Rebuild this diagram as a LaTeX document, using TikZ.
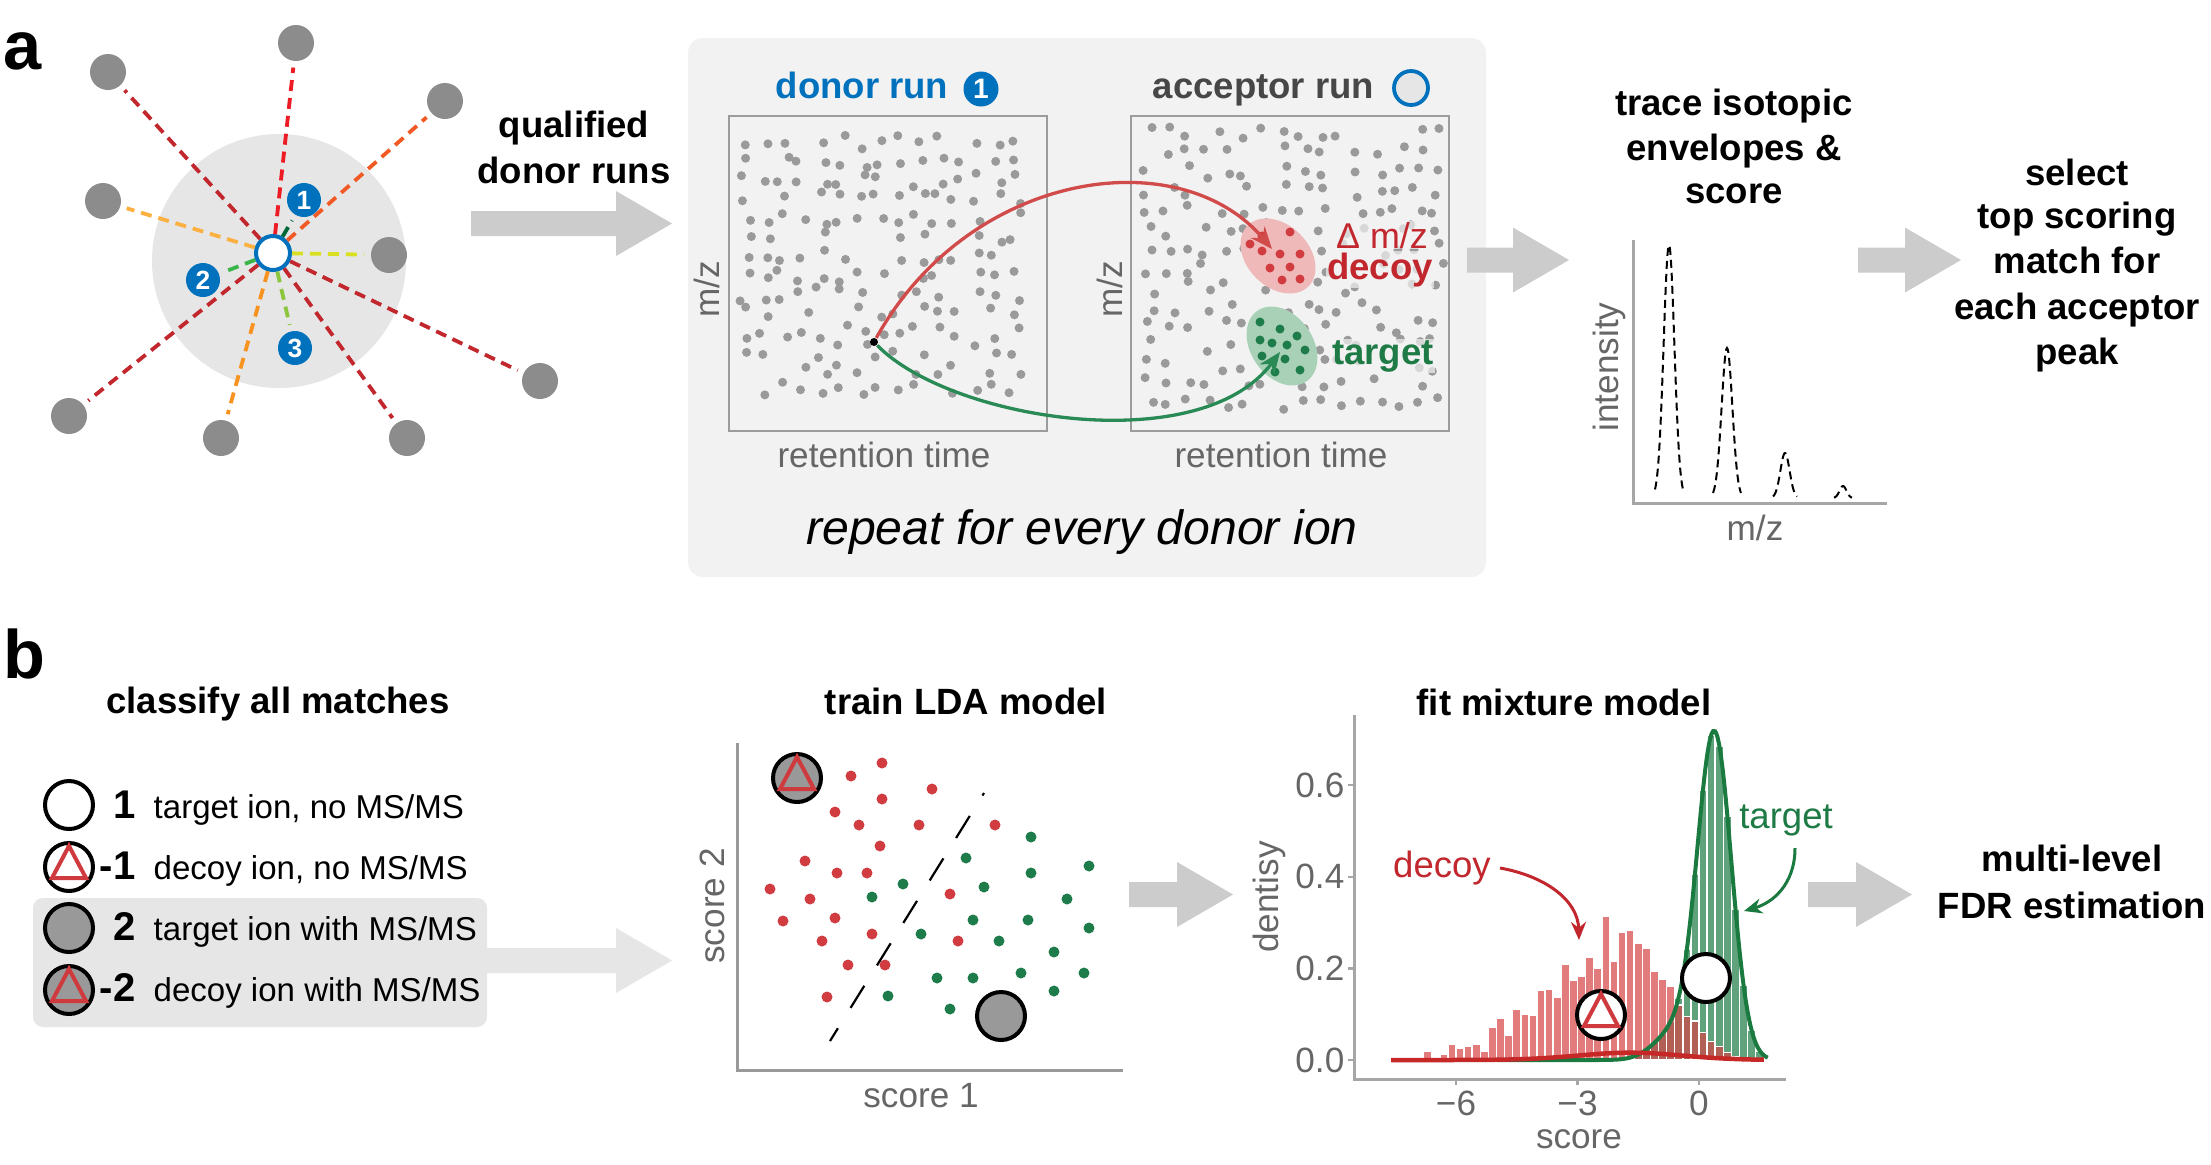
\documentclass[tikz,border=0pt]{standalone}
\usepackage{fontspec}
\setmainfont{Liberation Sans}
\usetikzlibrary{arrows.meta}
\definecolor{panelbg}{HTML}{F2F2F2}
\definecolor{diskgray}{HTML}{E6E6E6}
\definecolor{nodegray}{HTML}{8C8C8C}
\definecolor{dotgray}{HTML}{9A9A9A}
\definecolor{boxgray}{HTML}{9C9C9C}
\definecolor{arrgray}{HTML}{CCCCCC}
\definecolor{arrlight}{HTML}{E6E6E6}
\definecolor{blueA}{HTML}{0071BC}
\definecolor{axisgray}{HTML}{666666}
\definecolor{axline}{HTML}{A6A6A6}
\definecolor{cRed}{HTML}{ED1C24}
\definecolor{cDkRed}{HTML}{C1272D}
\definecolor{cOrRed}{HTML}{F15A24}
\definecolor{cLtOr}{HTML}{FBB040}
\definecolor{cOr}{HTML}{F7931E}
\definecolor{cYel}{HTML}{D9E021}
\definecolor{cDkGrn}{HTML}{006837}
\definecolor{cGrn}{HTML}{39B54A}
\definecolor{cYGrn}{HTML}{8CC63F}
\definecolor{arrRed}{HTML}{D24B4B}
\definecolor{arrGrn}{HTML}{2A8A55}
\definecolor{decoyRed}{HTML}{C1272D}
\definecolor{targetGrn}{HTML}{1E7B45}
\definecolor{ellRed}{HTML}{EFB8B9}
\definecolor{ellGrn}{HTML}{A9D1B7}
\definecolor{dotRed}{HTML}{D13C40}
\definecolor{dotGrn}{HTML}{1E7B4A}
\definecolor{triRed}{HTML}{CF3A3E}
\definecolor{symGray}{HTML}{999999}
\definecolor{barRed}{HTML}{D64545}
\definecolor{barGrn}{HTML}{5FA27B}
\definecolor{curveGrn}{HTML}{1A7A3F}
\definecolor{curveRed}{HTML}{C62828}
\newcommand\fatarr[4]{\fill[#4] (#1,#3-12.5) -- (#2-56,#3-12.5) -- (#2-56,#3-32.5) -- (#2,#3) -- (#2-56,#3+32.5) -- (#2-56,#3+12.5) -- (#1,#3+12.5) -- cycle;}
\newcommand\mytri[1]{\draw[triRed, line width=0.4mm, line join=miter] ([shift={(0,-21)}]#1.center) -- ([shift={(-17,11)}]#1.center) -- ([shift={(17,11)}]#1.center) -- cycle;}
\begin{document}
\begin{tikzpicture}[x=0.1mm,y=-0.1mm,
 hd/.style={font=\bfseries\fontsize{10.4pt}{12pt}\selectfont, inner sep=0pt, anchor=base},
 lbl/.style={font=\fontsize{10pt}{12pt}\selectfont, text=axisgray, inner sep=0pt},
 outer/.style={circle, fill=nodegray, minimum size=3.6mm, inner sep=0pt},
 badge/.style={circle, fill=blueA, minimum size=3.4mm, inner sep=0pt, text=white, font=\bfseries\fontsize{7.5pt}{8pt}\selectfont},
 dl/.style={dash pattern=on 1.1mm off 0.7mm, line width=0.38mm, shorten >=0.6mm},
 sym/.style={circle, draw=black, line width=0.4mm, minimum size=4.8mm, inner sep=0pt},
 leg/.style={font=\fontsize{9.4pt}{11pt}\selectfont, anchor=base west, inner sep=0pt},
 num/.style={font=\bfseries\fontsize{11.4pt}{13pt}\selectfont, anchor=base east, inner sep=0pt},
 big/.style={font=\bfseries\fontsize{19.5pt}{22pt}\selectfont, anchor=base west, inner sep=0pt},
 halo/.style={fill=panelbg, fill opacity=0.7, text opacity=1, inner sep=0.3pt}
]
\useasboundingbox (0,0) rectangle (2211,1164);
\fill[white] (0,0) rectangle (2211,1164);

% ---------- panel a, network ----------
\node[big] (la) at (3,69) {a};
\fill[diskgray] (279,261) circle[radius=127];
\node[outer] (n1) at (296,43) {};
\node[outer] (n2) at (108,72) {};
\node[outer] (n3) at (445,101) {};
\node[outer] (n4) at (103,201) {};
\node[outer] (n5) at (389,255) {};
\node[outer] (n6) at (540,381) {};
\node[outer] (n7) at (69,416) {};
\node[outer] (n8) at (221,438) {};
\node[outer] (n9) at (407,438) {};
\node[circle, draw=blueA, fill=white, line width=0.4mm, minimum size=3.4mm, inner sep=0pt] (ctr) at (273,253) {};
\node[badge] (b1) at (304,200) {1};
\node[badge] (b2) at (203,280) {2};
\node[badge] (b3) at (295,348) {3};
\draw[dl,cRed] (ctr) -- (n1);
\draw[dl,cDkRed] (ctr) -- (n2);
\draw[dl,cOrRed] (ctr) -- (n3);
\draw[dl,cLtOr] (ctr) -- (n4);
\draw[dl,cYel] (ctr) -- (n5);
\draw[dl,cDkRed] (ctr) -- (n6);
\draw[dl,cDkRed] (ctr) -- (n7);
\draw[dl,cOr] (ctr) -- (n8);
\draw[dl,cDkRed] (ctr) -- (n9);
\draw[dl,cDkGrn] (ctr) -- (b1);
\draw[dl,cGrn] (ctr) -- (b2);
\draw[dl,cYGrn] (ctr) -- (b3);

\node[hd] (q1) at (574,137) {qualified};
\node[hd] (q2) at (574,183) {donor runs};
\fatarr{471}{672}{223.5}{arrgray}

% ---------- panel a, runs ----------
\fill[panelbg, rounded corners=1.5mm] (688,38) rectangle (1486,577);
\node[hd, anchor=base west, text=blueA] (dr) at (775,98) {donor run};
\node[badge, minimum size=3.5mm, font=\bfseries\fontsize{8pt}{9pt}\selectfont] (drb) at (981,89) {1};
\node[hd, anchor=base west, text=black!72] (ar) at (1152,98) {acceptor run};
\node[circle, draw=blueA, fill=diskgray, line width=0.38mm, minimum size=3.4mm, inner sep=0pt] (arb) at (1411,88) {};

\pgfmathsetseed{11}
\foreach \i in {0,...,14}{\foreach \j in {0,...,13}{
  \pgfmathsetmacro\keep{rnd}
  \pgfmathsetmacro\ddx{745+\i*19.3+rand*7}
  \pgfmathsetmacro\ddy{142+\j*19+rand*7}
  \ifdim\keep pt>0.18pt \fill[dotgray] (\ddx,\ddy) circle[radius=4.5];\fi
}}
\foreach \i in {0,...,15}{\foreach \j in {0,...,14}{
  \pgfmathsetmacro\keep{rnd}
  \pgfmathsetmacro\ddx{1150+\i*19.1+rand*7}
  \pgfmathsetmacro\ddy{133+\j*19.3+rand*7}
  \ifdim\keep pt>0.25pt \fill[dotgray] (\ddx,\ddy) circle[radius=4.5];\fi
}}
\draw[boxgray, line width=0.25mm] (729,116) rectangle (1047,431);
\draw[boxgray, line width=0.25mm] (1131,116) rectangle (1449,431);
\fill[ellRed, rotate around={-45:(1278,256)}] (1278,256) ellipse[x radius=43, y radius=31];
\fill[ellGrn, rotate around={-55:(1282,346)}] (1282,346) ellipse[x radius=43, y radius=31];
\foreach \p in {(1262,236),(1290,232),(1280,254),(1300,254),(1262,251),(1270,268),(1290,267),(1282,280),(1300,279),(1250,244)}
  \fill[dotRed] \p circle[radius=4.5];
\foreach \p in {(1260,322),(1280,329),(1297,336),(1260,340),(1272,343),(1287,345),(1305,350),(1262,356),(1285,359),(1300,370),(1275,372)}
  \fill[dotGrn] \p circle[radius=4.5];

\node[circle, fill=black, minimum size=0.8mm, inner sep=0pt] (donor) at (874,342) {};
\coordinate (decoyhit) at (1272,249);
\coordinate (targethit) at (1280,352);
\draw[arrRed, line width=0.33mm, -{Stealth[length=2.2mm, width=1.8mm]}] (donor) .. controls (970,170) and (1180,140) .. (decoyhit);
\draw[arrGrn, line width=0.33mm, -{Stealth[length=2.2mm, width=1.8mm]}] (donor) .. controls (950,420) and (1200,460) .. (targethit);

\node[halo, font=\fontsize{10.2pt}{12pt}\selectfont, text=decoyRed, anchor=base] (dmz) at (1382,248) {Δ m/z};
\node[hd, halo, text=decoyRed] (dcy) at (1380,279) {decoy};
\node[hd, halo, text=targetGrn] (tgt) at (1383,364) {target};

\node[lbl, rotate=90] (mz1) at (707,289) {m/z};
\node[lbl, rotate=90] (mz2) at (1110,289) {m/z};
\node[lbl, anchor=base] (rt1) at (884,467) {retention time};
\node[lbl, anchor=base] (rt2) at (1281,467) {retention time};
\node[font=\itshape\fontsize{13.7pt}{16pt}\selectfont, anchor=base, inner sep=0pt] (rep) at (1082,544) {repeat for every donor ion};

% ---------- panel a, right ----------
\fatarr{1467}{1569}{260}{arrgray}
\node[hd] (t1) at (1734,115) {trace isotopic};
\node[hd] (t2) at (1734,160) {envelopes \&};
\node[hd] (t3) at (1734,203) {score};
\draw[axline, line width=0.3mm] (1633,240) -- (1633,503) -- (1887,503);
\foreach \cx/\hw/\tp in {1669/14/245, 1727/14/348, 1785/12/453, 1843/9/486}
  \draw[black, line width=0.2mm, dash pattern=on 0.8mm off 0.5mm]
    plot[domain=-\hw:\hw, samples=41, smooth] ({\cx+\x},{498-(498-\tp)*exp(-3.38*(\x/\hw)*(\x/\hw))});
\node[lbl, rotate=90] (int) at (1609,367) {intensity};
\node[lbl, anchor=base] (mz3) at (1755,540) {m/z};
\fatarr{1858}{1961}{260}{arrgray}
\node[hd] (s1l) at (2077,185) {select};
\node[hd] (s2l) at (2077,228) {top scoring};
\node[hd] (s3l) at (2077,273) {match for};
\node[hd] (s4l) at (2077,319) {each acceptor};
\node[hd] (s5l) at (2077,364) {peak};

% ---------- panel b, legend ----------
\node[big] (lb) at (3,678) {b};
\node[hd] (cl) at (278,713) {classify all matches};
\fill[arrlight, rounded corners=1mm] (33,898) rectangle (487,1027);
\fatarr{480}{672}{960.5}{arrlight}
\node[sym, fill=white] (c1) at (69,805) {};
\node[sym, fill=white] (c2) at (69,867) {};
\node[sym, fill=symGray] (c3) at (69,928) {};
\node[sym, fill=symGray] (c4) at (69,990) {};
\mytri{c2}
\mytri{c4}
\node[num] (k1) at (136,818) {1};
\node[num] (k2) at (136,879) {-1};
\node[num] (k3) at (136,940) {2};
\node[num] (k4) at (136,1001) {-2};
\node[leg] (g1) at (153,818) {target ion, no MS/MS};
\node[leg] (g2) at (153,879) {decoy ion, no MS/MS};
\node[leg] (g3) at (153,940) {target ion with MS/MS};
\node[leg] (g4) at (153,1001) {decoy ion with MS/MS};

% ---------- panel b, LDA ----------
\node[hd] (lda) at (966,714) {train LDA model};
\draw[symGray, line width=0.3mm] (737,743) -- (737,1070) -- (1123,1070);
\foreach \p in {(882,763),(851,776),(932,789),(882,799),(835,812),(859,825),(919,825),(995,825),(880,846),(805,861),(837,873),(867,873),(770,889),(810,899),(950,894),(783,921),(835,918),(872,934),(822,941),(958,941),(848,965),(885,965),(827,997)}
  \fill[dotRed] \p circle[radius=5.5];
\foreach \p in {(1031,837),(966,858),(1089,866),(1031,873),(903,884),(984,887),(872,897),(1067,899),(973,920),(1028,920),(1089,928),(921,934),(999,941),(1054,952),(937,978),(973,978),(1021,973),(1084,973),(888,996),(1054,991),(950,1009)}
  \fill[dotGrn] \p circle[radius=5.5];
\coordinate (bd1) at (830,1041);
\coordinate (bd2) at (984,793);
\draw[black, line width=0.22mm, dash pattern=on 2.6mm off 2.4mm, dash phase=1.1mm] (bd1) -- (bd2);
\node[sym, fill=symGray] (ga) at (797,778) {};
\mytri{ga}
\node[sym, fill=symGray] (gb) at (1001,1016) {};
\node[lbl, rotate=90] (sc2) at (712,906) {score 2};
\node[lbl, anchor=base] (sc1) at (921,1107) {score 1};
\fatarr{1129}{1233}{894.5}{arrgray}

% ---------- panel b, mixture ----------
\node[hd] (fit) at (1564,715) {fit mixture model};
\begin{scope}[shift={(1699,1060)}, x=4.05mm, y=45.8mm]
 \foreach \s/\h in {-1.7/.005,-1.5/.012,-1.3/.023,-1.1/.038,-0.9/.057,-0.7/.085,-0.5/.134,-0.3/.242,-0.1/.406,0.1/.59,0.3/.709,0.5/.686,0.7/.533,0.9/.33,1.1/.163,1.3/.064,1.5/.02}
   \filldraw[fill=barGrn, draw=white, line width=0.15mm] (\s-0.1,0) rectangle (\s+0.1,\h);
 \foreach \s/\h in {-7.5/.004,-7.3/.004,-7.1/.005,-6.9/.003,-6.7/.02,-6.5/.007,-6.3/.012,-6.1/.035,-5.9/.025,-5.7/.03,-5.5/.034,-5.3/.02,-5.1/.072,-4.9/.092,-4.7/.055,-4.5/.11,-4.3/.1,-4.1/.098,-3.9/.152,-3.7/.155,-3.5/.138,-3.3/.21,-3.1/.175,-2.9/.182,-2.7/.225,-2.5/.2,-2.3/.313,-2.1/.215,-1.9/.28,-1.7/.284,-1.5/.255,-1.3/.245,-1.1/.193,-0.9/.176,-0.7/.16,-0.5/.12,-0.3/.095,-0.1/.085,0.1/.06,0.3/.04,0.5/.03,0.7/.016,0.9/.008,1.1/.004,1.3/.002}
   \filldraw[fill=barRed, fill opacity=0.7, draw=white, line width=0.15mm] (\s-0.1,0) rectangle (\s+0.1,\h);
 \draw[curveGrn, line width=0.4mm] plot[domain=-5:1.7, samples=140, smooth] (\x, {0.71*exp(max(-12,-((\x-0.38)*(\x-0.38))/0.3528))+0.06*exp(max(-12,-((\x+0.6)*(\x+0.6))/0.5))});
 \draw[curveRed, line width=0.45mm] plot[domain=-7.6:1.6, samples=80, smooth] (\x, {0.016*exp(max(-12,-((\x+1.7)*(\x+1.7))/3.38))});
\end{scope}
\draw[axline, line width=0.3mm] (1354,715) -- (1354,1079) -- (1786,1079);
\foreach \yy/\tx in {1060/0.0, 968.4/0.2, 876.8/0.4, 785.2/0.6}{
  \draw[axline, line width=0.25mm] (1348,\yy) -- (1354,\yy);
  \node[lbl, anchor=east] at (1345,\yy) {\tx};
}
\foreach \xx/\tx in {1456/−6, 1577.5/−3, 1699/0}{
  \draw[axline, line width=0.25mm] (\xx,1079) -- (\xx,1085);
  \node[lbl, anchor=base] at (\xx,1115) {\tx};
}
\node[lbl, anchor=base] (scr) at (1579,1148) {score};
\node[lbl, rotate=90] (den) at (1269,897) {dentisy};
\node[sym, fill=white] (m1) at (1706,978) {};
\node[sym, fill=white] (m2) at (1601,1015) {};
\mytri{m2}
\node[font=\fontsize{10.4pt}{12pt}\selectfont, text=targetGrn, anchor=base, inner sep=0pt] (tlab) at (1786,828) {target};
\coordinate (tla) at (1795,848);
\coordinate (tlb) at (1744,911);
\draw[curveGrn, line width=0.3mm, -{Stealth[length=1.8mm, width=1.5mm]}] (tla) .. controls (1795,885) and (1772,903) .. (tlb);
\node[font=\fontsize{10.4pt}{12pt}\selectfont, text=decoyRed, anchor=base, inner sep=0pt] (dlab) at (1442,877) {decoy};
\coordinate (dla) at (1500,868);
\coordinate (dlb) at (1579,940);
\draw[decoyRed, line width=0.3mm, -{Stealth[length=1.8mm, width=1.5mm]}] (dla) .. controls (1545,876) and (1578,900) .. (dlb);
\fatarr{1808}{1912}{894.5}{arrgray}
\node[hd] (ml) at (2072,871) {multi-level};
\node[hd] (fdr) at (2072,918) {FDR estimation};
\end{tikzpicture}
\end{document}
